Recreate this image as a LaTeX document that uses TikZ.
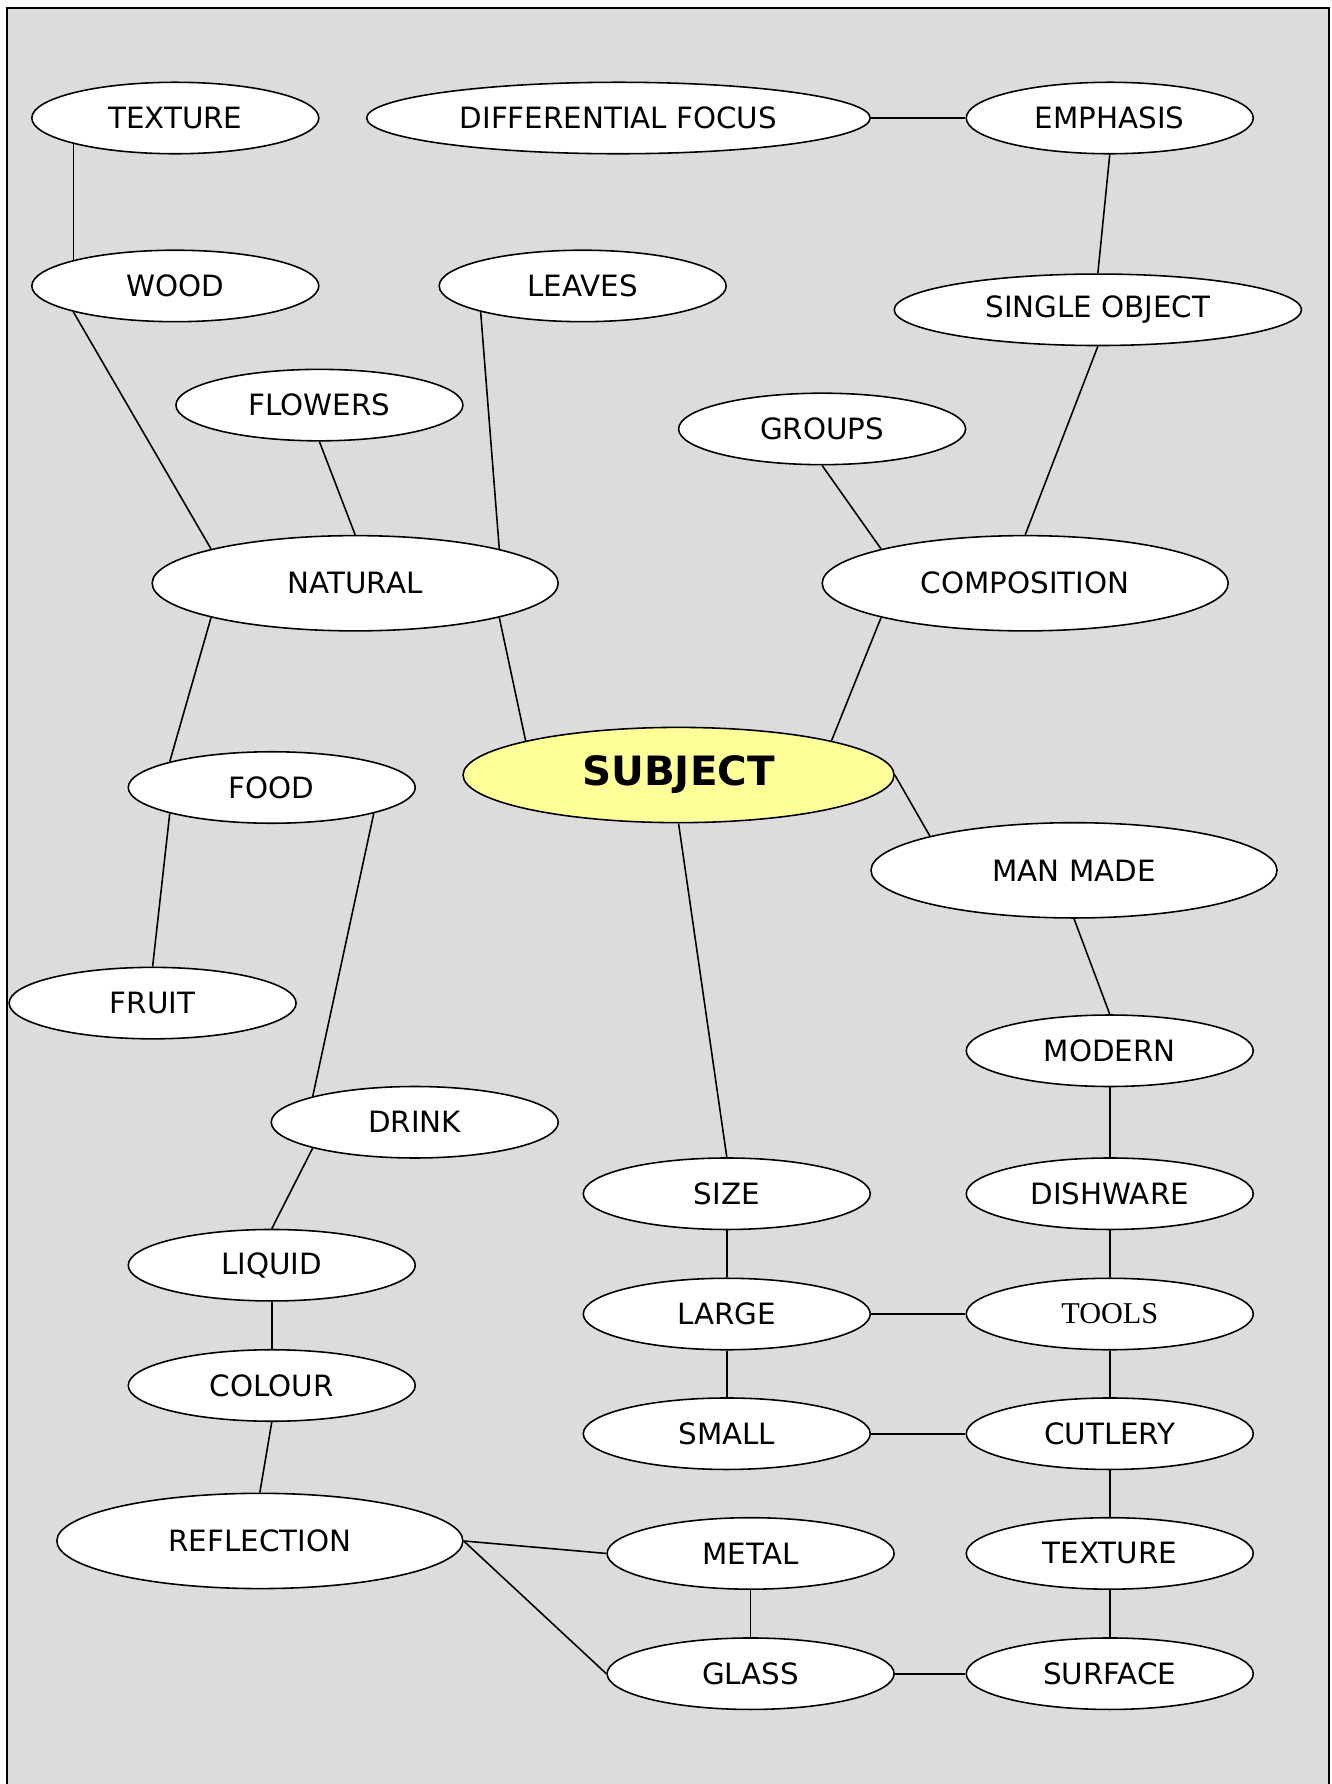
\documentclass[tikz,border=0pt]{standalone}
\usepackage{fontspec}
\setmainfont{DejaVu Sans}
\newfontfamily\timesfont{Liberation Serif}
\usetikzlibrary{shapes.geometric}

\begin{document}
\begin{tikzpicture}
            [x=0.011347cm, y=-0.011347cm, line width=0.45pt,
             blob/.style={shape=ellipse, draw=black, fill=white, inner sep=0pt,
                          minimum width=2.871cm, minimum height=0.715cm,
                          font=\fontsize{8.35}{10}\selectfont},
             bigblob/.style={blob, minimum width=4.062cm, minimum height=0.953cm},
             link/.style={draw=black, line width=0.45pt}]
            \useasboundingbox (0, 0) rectangle (1173, 1572.2);
            \draw[fill={rgb,255:red,220;green,220;blue,220}, line width=0.6pt] (6.2, 7) rectangle (1171.2, 1600);

            % top row
            \node[blob] (texture) at (154.5, 104) {TEXTURE};
            \node[blob, minimum width=5.038cm] (difffocus) at (545, 104) {DIFFERENTIAL FOCUS};
            \node[blob] (emphasis) at (978, 104) {EMPHASIS};
            \node[blob] (wood) at (154.5, 252) {WOOD};
            \node[blob] (leaves) at (513.5, 252) {LEAVES};
            \node[blob, minimum width=4.074cm] (singleobj) at (967.5, 273) {SINGLE OBJECT};
            \node[blob] (flowers) at (281.5, 357) {FLOWERS};
            \node[blob] (groups) at (724.5, 378) {GROUPS};
            \node[bigblob] (natural) at (313, 514) {NATURAL};
            \node[bigblob] (composition) at (903.5, 514) {COMPOSITION};

            % centre
            \node[bigblob, minimum width=4.312cm, fill={rgb,255:red,255;green,255;blue,153},
                  font=\fontsize{11.5}{13}\selectfont\bfseries] (subject) at (598, 683) {SUBJECT};

            \node[blob] (food) at (239.5, 694) {FOOD};
            \node[bigblob] (manmade) at (946.5, 767) {MAN MADE};
            \node[blob] (fruit) at (134.5, 884) {FRUIT};
            \node[blob] (modern) at (978, 926) {MODERN};
            \node[blob] (drink) at (365.5, 989) {DRINK};
            \node[blob] (size) at (640.5, 1052) {SIZE};
            \node[blob] (dishware) at (978, 1052) {DISHWARE};
            \node[blob] (liquid) at (239.5, 1115) {LIQUID};
            \node[blob] (large) at (640.5, 1158) {LARGE};
            \node[blob, font=\fontsize{8.6}{10}\timesfont] (tools) at (978, 1158) {TOOLS};
            \node[blob] (colour) at (239.5, 1221) {COLOUR};
            \node[blob] (small) at (640.5, 1263.5) {SMALL};
            \node[blob] (cutlery) at (978, 1263.5) {CUTLERY};
            \node[bigblob] (reflection) at (229, 1358) {REFLECTION};
            \node[blob] (metal) at (661.5, 1369) {METAL};
            \node[blob] (texturetwo) at (978, 1369) {TEXTURE};
            \node[blob] (glass) at (661.5, 1475) {GLASS};
            \node[blob] (surface) at (978, 1475) {SURFACE};

            % connectors
            \path[link] (texture.south west) -- (wood.north west);
            \path[link] (difffocus.east) -- (emphasis.west);
            \path[link] (emphasis.south) -- (singleobj.north);
            \path[link] (wood.south west) -- (natural.north west);
            \path[link] (leaves.south west) -- (natural.north east);
            \path[link] (flowers.south) -- (natural.north);
            \path[link] (groups.south) -- (composition.north west);
            \path[link] (singleobj.south) -- (composition.north);
            \path[link] (natural.south west) -- (food.north west);
            \path[link] (natural.south east) -- (subject.north west);
            \path[link] (composition.south west) -- (subject.north east);
            \path[link] (subject.east) -- (manmade.north west);
            \path[link] (subject.south) -- (size.north);
            \path[link] (food.south west) -- (fruit.north);
            \path[link] (food.south east) -- (drink.north west);
            \path[link] (manmade.south) -- (modern.north);
            \path[link] (modern.south) -- (dishware.north);
            \path[link] (drink.south west) -- (liquid.north);
            \path[link] (size.south) -- (large.north);
            \path[link] (dishware.south) -- (tools.north);
            \path[link] (large.east) -- (tools.west);
            \path[link] (liquid.south) -- (colour.north);
            \path[link] (large.south) -- (small.north);
            \path[link] (tools.south) -- (cutlery.north);
            \path[link] (small.east) -- (cutlery.west);
            \path[link] (colour.south) -- (reflection.north);
            \path[link] (cutlery.south) -- (texturetwo.north);
            \path[link] (reflection.east) -- (metal.west);
            \path[link] (reflection.east) -- (glass.west);
            \path[link] (metal.south) -- (glass.north);
            \path[link] (texturetwo.south) -- (surface.north);
            \path[link] (glass.east) -- (surface.west);
        \end{tikzpicture}
\end{document}
